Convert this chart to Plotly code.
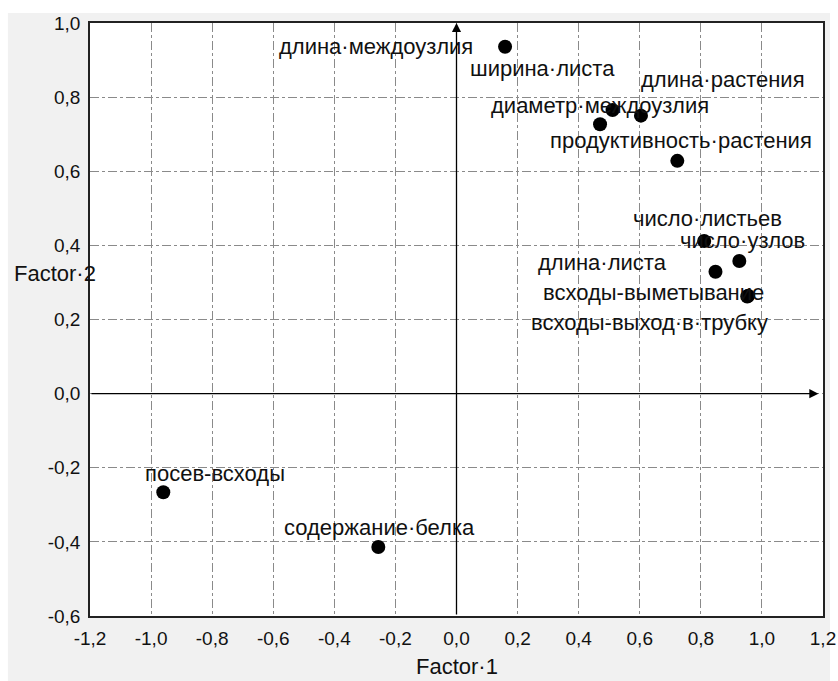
import plotly.graph_objects as go

# ---- data ----
names = [
    "длина·междоузлия", "ширина·листа", "длина·растения", "диаметр·междоузлия",
    "продуктивность·растения", "число·листьев", "число·узлов", "длина·листа",
    "всходы-выметывание", "всходы-выход·в·трубку", "посев-всходы", "содержание·белка",
]
factor1 = [0.159, 0.511, 0.604, 0.470, 0.723, 0.811, 0.926, 0.848, 0.955, 0.952, -0.960, -0.256]
factor2 = [0.936, 0.765, 0.750, 0.727, 0.628, 0.412, 0.358, 0.329, 0.264, 0.262, -0.266, -0.414]

x_ticks = [-1.2, -1.0, -0.8, -0.6, -0.4, -0.2, 0.0, 0.2, 0.4, 0.6, 0.8, 1.0, 1.2]
x_tick_text = ["-1,2", "-1,0", "-0,8", "-0,6", "-0,4", "-0,2", "0,0", "0,2", "0,4", "0,6", "0,8", "1,0", "1,2"]
y_ticks = [-0.6, -0.4, -0.2, 0.0, 0.2, 0.4, 0.6, 0.8, 1.0]
y_tick_text = ["-0,6", "-0,4", "-0,2", "0,0", "0,2", "0,4", "0,6", "0,8", "1,0"]

# label offsets in pixels (dx right, dy down) from the point -- styling only
label_offsets = [
    (-129, 0), (-70, -42), (82, -36), (0, -19), (4, -20), (3, -22),
    (3, -20), (-113, -9), (-95, -3), (-98, 26), (52, -19), (1, -20),
]

FONT = "Liberation Sans, Arial, sans-serif"

fig = go.Figure()
fig.add_trace(go.Scatter(
    x=factor1, y=factor2, mode="markers",
    marker=dict(size=14, color="black"),
    hoverinfo="skip", showlegend=False,
))

annotations = []
for name, fx, fy, (dx, dy) in zip(names, factor1, factor2, label_offsets):
    annotations.append(dict(
        x=fx, y=fy, xref="x", yref="y", text=name, showarrow=False,
        xanchor="center", yanchor="middle", xshift=dx, yshift=-dy,
        font=dict(family=FONT, size=22, color="#111111"),
    ))

# axis arrows
annotations.append(dict(
    x=1.185, y=0, ax=-1.2, ay=0, xref="x", yref="y", axref="x", ayref="y",
    showarrow=True, arrowhead=2, arrowsize=1.4, arrowwidth=1.3, arrowcolor="black",
    standoff=0, text="",
))
annotations.append(dict(
    x=0, y=1.0, ax=0, ay=-0.6, xref="x", yref="y", axref="x", ayref="y",
    showarrow=True, arrowhead=2, arrowsize=1.4, arrowwidth=1.3, arrowcolor="black",
    standoff=0, text="",
))

# axis titles
annotations.append(dict(
    x=-0.106, y=0.578, xref="paper", yref="paper", text="Factor·2", showarrow=False,
    xanchor="left", yanchor="middle", font=dict(family=FONT, size=22, color="#111111"),
))
annotations.append(dict(
    x=0.5, y=-0.086, xref="paper", yref="paper", text="Factor·1", showarrow=False,
    xanchor="center", yanchor="middle", font=dict(family=FONT, size=22, color="#111111"),
))

shapes = [
    dict(type="rect", xref="paper", yref="paper", x0=-0.112, x1=1.0096, y0=-0.12, y1=1.0169,
         fillcolor="#f1f1f1", line=dict(width=0), layer="below"),
    dict(type="rect", xref="paper", yref="paper", x0=0, x1=1, y0=0, y1=1,
         fillcolor="white", line=dict(width=0), layer="below"),
]

axis_common = dict(
    showgrid=True, gridcolor="#8a8a8a", gridwidth=1, griddash="dashdot",
    zeroline=False, showline=True, linecolor="#222222", linewidth=1.5, mirror=True,
    ticks="", tickfont=dict(family=FONT, size=19, color="#111111"),
)

fig.update_xaxes(range=[-1.2, 1.2], tickvals=x_ticks, ticktext=x_tick_text,
                 ticklabelstandoff=4, **axis_common)
fig.update_yaxes(range=[-0.6, 1.0], tickvals=y_ticks, ticktext=y_tick_text,
                 ticklabelstandoff=4, **axis_common)

fig.update_layout(
    width=838, height=681,
    margin=dict(l=90, r=15, t=23, b=65, autoexpand=False),
    paper_bgcolor="white", plot_bgcolor="white",
    annotations=annotations, shapes=shapes,
    font=dict(family=FONT, color="#111111"),
)

fig.write_html("out.html")
